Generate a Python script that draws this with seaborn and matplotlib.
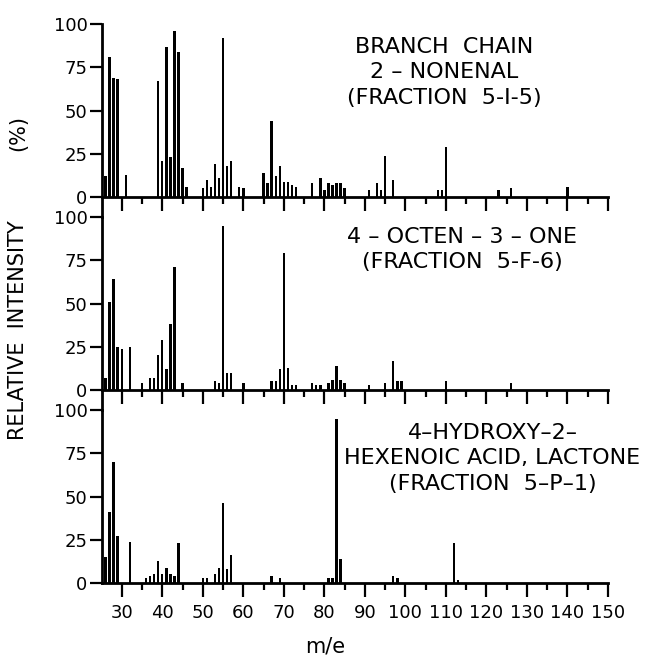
import numpy as np
import pandas as pd
import matplotlib
matplotlib.use("Agg")
import matplotlib.pyplot as plt
import seaborn as sns
from matplotlib.ticker import FixedLocator

# ---------------- data ----------------
# Panel 1: branch chain 2-nonenal
mz1 = [25, 26, 27, 28, 29, 31, 39, 40, 41, 42, 43, 44, 45, 46, 50, 51, 52, 53, 54,
       55, 56, 57, 59, 60, 65, 66, 67, 68, 69, 70, 71, 72, 73, 77, 79, 80, 81, 82,
       83, 84, 85, 91, 93, 94, 95, 97, 108, 109, 110, 123, 126, 140]
int1 = [3, 12, 81, 69, 68, 13, 67, 21, 87, 23, 96, 84, 17, 6, 5, 10, 6, 19, 11,
        92, 18, 21, 6, 5, 14, 8, 44, 12, 18, 9, 9, 7, 6, 8, 11, 4, 8, 7,
        8, 8, 5, 4, 8, 4, 24, 10, 4, 4, 29, 4, 5, 6]

# Panel 2: 4-octen-3-one
mz2 = [26, 27, 28, 29, 30, 32, 35, 37, 38, 39, 40, 41, 42, 43, 45, 53, 54, 55, 56,
       57, 60, 67, 68, 69, 70, 71, 72, 73, 77, 78, 79, 81, 82, 83, 84, 85, 91, 95,
       97, 98, 99, 110, 126]
int2 = [7, 51, 64, 25, 24, 25, 4, 7, 7, 20, 29, 12, 38, 71, 4, 5, 4, 95, 10,
        10, 4, 5, 5, 12, 79, 13, 3, 3, 4, 3, 3, 4, 6, 14, 6, 4, 3, 4,
        17, 5, 5, 5, 4]

# Panel 3: 4-hydroxy-2-hexenoic acid, lactone
mz3 = [26, 27, 28, 29, 32, 36, 37, 38, 39, 40, 41, 42, 43, 44, 50, 51, 53, 54, 55,
       56, 57, 67, 69, 81, 82, 83, 84, 97, 98, 112, 113]
int3 = [15, 41, 70, 27, 24, 3, 4, 5, 13, 5, 9, 5, 4, 23, 3, 3, 5, 9, 46,
        8, 16, 4, 3, 3, 3, 95, 14, 4, 3, 23, 2]

titles = [
    "BRANCH  CHAIN\n2 – NONENAL\n(FRACTION  5-I-5)",
    "4 – OCTEN – 3 – ONE\n(FRACTION  5-F-6)",
    "4–HYDROXY–2–\nHEXENOIC ACID, LACTONE\n(FRACTION  5–P–1)",
]
title_pos = [(109.5, 72), (114.0, 81), (121.5, 72)]
yticks = [0, 25, 50, 75, 100]
xticks_major = [30, 40, 50, 60, 70, 80, 90, 100, 110, 120, 130, 140, 150]
xticks_minor = [35, 45, 55, 65, 75, 85, 95, 105, 115, 125, 135, 145]

panels = [(mz1, int1), (mz2, int2), (mz3, int3)]

# ---------------- style ----------------
sns.set_style("white")
plt.rcParams['font.family'] = ['DejaVu Sans']
plt.rcParams['text.color'] = 'black'
plt.rcParams['axes.labelcolor'] = 'black'
plt.rcParams['xtick.color'] = 'black'
plt.rcParams['ytick.color'] = 'black'

W, H = 647, 656
fig = plt.figure(figsize=(W / 100, H / 100), dpi=100)

left = 101.5 / W
width = (608 - 101.5) / W
ph = 193 / H
top0 = 1 - 24 / H

for i, ((mz, val), title, tpos) in enumerate(zip(panels, titles, title_pos)):
    bottom = top0 - (i + 1) * ph
    ax = fig.add_axes([left, bottom, width, ph])
    df = pd.DataFrame({"mz": mz, "intensity": val})
    sns.barplot(data=df, x="mz", y="intensity", native_scale=True, color="black",
                width=0.6, saturation=1, linewidth=0, errorbar=None, ax=ax)
    ax.set_xlim(25, 150)
    ax.set_ylim(-11.5, 100)
    ax.set_xlabel("")
    ax.set_ylabel("")
    for s in ["top", "right"]:
        ax.spines[s].set_visible(False)
    ax.spines["bottom"].set_position(("data", 0))
    for s in ["bottom", "left"]:
        ax.spines[s].set_linewidth(2.0)
        ax.spines[s].set_color("black")
    if i == 2:
        ax.spines["left"].set_bounds(0, 100)

    ax.xaxis.set_major_locator(FixedLocator(xticks_major))
    ax.xaxis.set_minor_locator(FixedLocator(xticks_minor))
    ax.set_xticklabels([str(t) for t in xticks_major])
    ax.set_yticks(yticks)
    ax.set_yticklabels([str(t) for t in yticks])
    ax.tick_params(axis="x", which="major", direction="out", length=10, width=1.6,
                   color="black", labelcolor="black", pad=5, labelsize=13, bottom=True)
    ax.tick_params(axis="x", which="minor", direction="out", length=5, width=1.6,
                   color="black", bottom=True)
    ax.tick_params(axis="y", which="major", direction="out", length=9, width=1.6,
                   color="black", labelcolor="black", pad=1, labelsize=13, left=True)
    if i < 2:
        ax.tick_params(axis="x", labelbottom=False)
    ax.patch.set_alpha(0)
    ax.grid(False)

    ax.text(tpos[0], tpos[1], title, ha="center", va="center", fontsize=16,
            linespacing=1.32, color="black")

fig.text(18 / W, 1 - 133 / H, "(%)", rotation=90, ha="center", va="center",
         fontsize=15, color="black")
fig.text(18 / W, 1 - 330 / H, "RELATIVE  INTENSITY", rotation=90, ha="center",
         va="center", fontsize=15, color="black")
fig.text(325 / W, 1 - 646 / H, "m/e", ha="center", va="center", fontsize=15,
         color="black")

fig.savefig("out.png", dpi=100)
